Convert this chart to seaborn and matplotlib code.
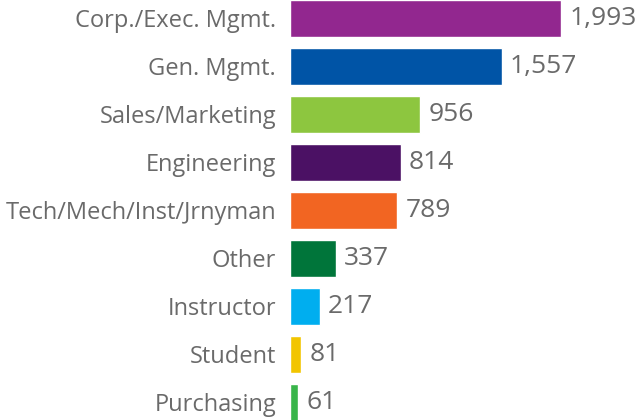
import pandas as pd
import matplotlib.pyplot as plt
import seaborn as sns

# Data
roles = ["Corp./Exec. Mgmt.", "Gen. Mgmt.", "Sales/Marketing", "Engineering",
         "Tech/Mech/Inst/Jrnyman", "Other", "Instructor", "Student", "Purchasing"]
counts = [1993, 1557, 956, 814, 789, 337, 217, 81, 61]
colors = ["#92278F", "#0054A6", "#8DC63F", "#4B1164", "#F26522",
          "#00753A", "#00AEEF", "#F2C500", "#39B54A"]

df = pd.DataFrame({"role": roles, "count": counts})

sns.set_style("white")
plt.rcParams["font.family"] = ["Open Sans", "DejaVu Sans"]

fig = plt.figure(figsize=(6.37, 4.2), dpi=100)
ax = fig.add_axes([290 / 637, 0, 347 / 637, 1])

sns.barplot(data=df, x="count", y="role", hue="role", palette=colors,
            order=roles, hue_order=roles, width=0.77, legend=False,
            saturation=1, ax=ax)

ax.set_xlim(0, 2551)
ax.set_ylim(8.365, -0.385)
ax.set_xlabel("")
ax.set_ylabel("")
ax.set_xticks([])
ax.tick_params(axis="y", length=0, pad=10, labelsize=17, labelcolor="#6a6a6a")
sns.despine(ax=ax, left=True, bottom=True)

for i, v in enumerate(counts):
    ax.text(v + 60, i, f"{v:,}", va="center", ha="left",
            fontsize=19, color="#6a6a6a")

fig.savefig("out.png", dpi=100)
